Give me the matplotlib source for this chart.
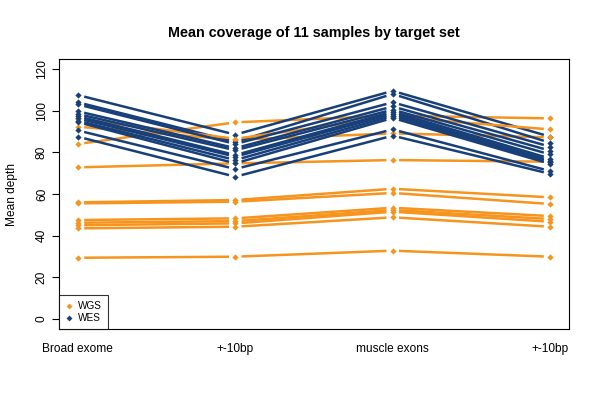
import matplotlib
matplotlib.use("Agg")
import matplotlib.pyplot as plt
import numpy as np

categories = ["Broad exome", "+-10bp", "muscle exons", "+-10bp"]
x_pos = [1, 2, 3, 4]
y_ticks = [0, 20, 40, 60, 80, 100, 120]

# WGS (orange), one list per sample: values at the 4 target sets
wgs = [
    [84.0, 94.4, 97.6, 96.3],
    [92.3, 86.0, 89.1, 87.2],
    [96.0, 86.5, 97.0, 91.0],
    [72.8, 74.7, 76.3, 75.5],
    [56.0, 57.1, 62.5, 58.4],
    [55.5, 56.3, 60.5, 55.2],
    [47.5, 48.3, 53.4, 49.4],
    [46.2, 47.0, 52.3, 48.0],
    [45.0, 45.9, 51.5, 46.7],
    [43.5, 44.3, 48.8, 44.3],
    [29.4, 29.9, 32.8, 29.9],
]
# WES (blue)
wes = [
    [107.5, 88.5, 109.5, 87.5],
    [104.0, 85.0, 108.0, 84.6],
    [103.0, 84.0, 104.0, 82.7],
    [99.7, 82.0, 102.0, 80.8],
    [98.4, 81.0, 100.5, 79.0],
    [97.3, 78.7, 99.5, 77.0],
    [96.3, 77.9, 98.5, 76.0],
    [95.2, 76.3, 97.5, 75.3],
    [94.5, 74.7, 96.5, 74.5],
    [90.5, 72.0, 91.0, 71.0],
    [87.5, 68.3, 88.0, 69.7],
]

c_wgs = "#F7941E"
c_wes = "#173F7A"

fig = plt.figure(figsize=(6, 4), dpi=100)
ax = fig.add_axes([59/600, 1-329/400, 510/600, 270/400])

gap = 0.04  # R type="b" gap around points

def draw(series, color):
    xs = np.array(x_pos, dtype=float)
    ys = np.array(series, dtype=float)
    for i in range(len(xs) - 1):
        x0, x1 = xs[i], xs[i+1]
        y0, y1 = ys[i], ys[i+1]
        t0 = gap / (x1 - x0)
        t1 = 1 - t0
        ax.plot([x0 + (x1-x0)*t0, x0 + (x1-x0)*t1],
                [y0 + (y1-y0)*t0, y0 + (y1-y0)*t1],
                color=color, lw=1.8, solid_capstyle="butt", zorder=2)
    ax.plot(xs, ys, linestyle="none", marker="D", ms=3.2, color=color,
            markeredgewidth=0, zorder=3)

for a, b in zip(wgs, wes):
    draw(a, c_wgs)
    draw(b, c_wes)

ax.set_xlim(0.88, 4.12)
ax.set_ylim(-4.8, 124.8)
ax.set_xticks(x_pos)
ax.set_xticklabels(categories, fontsize=8.6, family="Liberation Sans")
ax.tick_params(axis="x", length=0, pad=10)
ax.set_yticks(y_ticks)
ax.set_yticklabels([str(v) for v in y_ticks], fontsize=8.6, family="Liberation Sans",
                   rotation=90, va="center")
ax.tick_params(axis="y", length=5, width=0.8, pad=3, direction="out")
for s in ax.spines.values():
    s.set_linewidth(0.8)
    s.set_color("black")

ax.set_ylabel("Mean depth", fontsize=8.6, family="Liberation Sans", labelpad=13)
ax.set_title("Mean coverage of 11 samples by target set", fontsize=10.4,
             fontweight="bold", family="Liberation Sans", pad=16)

leg_handles = [
    plt.Line2D([], [], linestyle="none", marker="D", ms=3, color=c_wgs, markeredgewidth=0),
    plt.Line2D([], [], linestyle="none", marker="D", ms=3, color=c_wes, markeredgewidth=0),
]
leg = ax.legend(leg_handles, ["WGS", "WES"], loc="lower left",
                prop={"family": "Liberation Sans", "size": 7.2},
                frameon=True, fancybox=False, borderaxespad=0,
                handlelength=0.8, handletextpad=0.5, borderpad=0.6,
                labelspacing=0.2)
leg.get_frame().set_edgecolor("black")
leg.get_frame().set_linewidth(0.8)

fig.savefig("out.png", dpi=100)
